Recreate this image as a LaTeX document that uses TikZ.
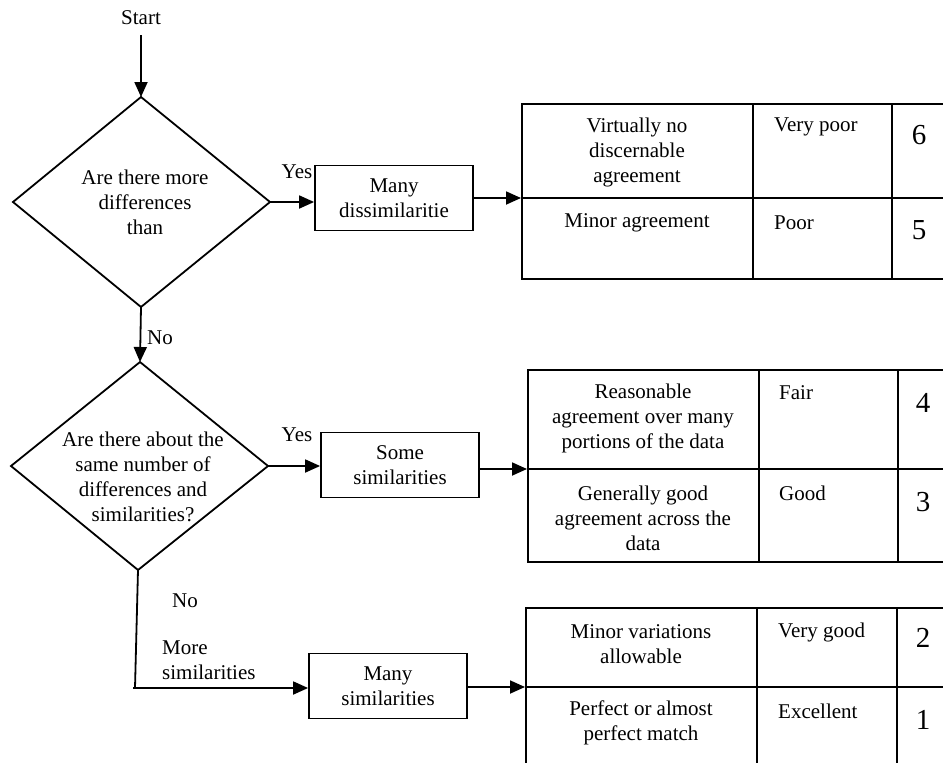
\documentclass[tikz,border=0pt]{standalone}
\usepackage{fontspec}
\setmainfont{Liberation Serif}
\usetikzlibrary{arrows.meta}
\begin{document}
\begin{tikzpicture}[x=1pt,y=1pt,
  every node/.style={font=\fontsize{21}{25}\selectfont},
  conn/.style={line width=1.8pt},
  arr/.style={conn,-{Triangle[length=15pt,width=13pt]}},
  box/.style={draw,line width=1.8pt,minimum width=158pt,minimum height=65pt,align=center,inner sep=0pt},
  lbl/.style={inner sep=0pt},
  tbl/.style={line width=2pt},
  tframe/.style={draw,tbl,anchor=north west,minimum width=450pt,inner sep=0pt},
  num/.style={font=\fontsize{29}{30}\selectfont,inner sep=0pt},
  ctext/.style={align=center,inner sep=0pt},
  rtext/.style={anchor=west,inner sep=0pt}
  ]
\useasboundingbox (0,0) rectangle (943,-763);
\clip (0,0) rectangle (943,-763);

% start
\node[lbl] (start) at (141,-18) {Start};

% diamond 1
\coordinate (d1n) at (141,-97);
\coordinate (d1e) at (270,-202);
\coordinate (d1s) at (141,-307);
\coordinate (d1w) at (13,-202);
\draw[conn] (d1n) -- (d1e) -- (d1s) -- (d1w) -- cycle;
\node[ctext] (d1) at (145,-202) {Are there more\\differences\\than};
\draw[arr] ([yshift=-10pt]start.south) -- (d1n);

% box 1
\node[box] (b1) at (394,-198) {Many\\dissimilaritie};
\draw[arr] (d1e) -- (d1e -| b1.west);
\node[lbl] (yes1) at (297,-172) {Yes};

% table 1
\node[tframe,minimum height=175pt] (t1) at (521,-103) {};
\coordinate (t1m) at (521,-198);
\draw[tbl] (t1m) -- (t1m -| t1.east);
\draw[tbl] ([xshift=232pt]t1.north west) -- ([xshift=232pt]t1.south west);
\draw[tbl] ([xshift=371pt]t1.north west) -- ([xshift=371pt]t1.south west);
\draw[arr] (b1.east |- t1m) -- (t1m);
\node[ctext] (t1a) at (637,-152) {Virtually no\\discernable\\agreement};
\node[rtext] (t1b) at (774,-127) {Very poor};
\node[num] (t1c) at (919,-135) {6};
\node[ctext] (t1d) at (637,-223) {Minor agreement};
\node[rtext] (t1e) at (774,-223) {Poor};
\node[num] (t1f) at (919,-230) {5};

% diamond 2
\coordinate (d2n) at (140,-362);
\coordinate (d2e) at (268,-466);
\coordinate (d2s) at (138,-570);
\coordinate (d2w) at (11,-466);
\draw[conn] (d2n) -- (d2e) -- (d2s) -- (d2w) -- cycle;
\node[ctext] (d2) at (143,-477) {Are there about the\\same number of\\differences and\\similarities?};
\draw[arr] (d1s) -- (d2n);
\node[lbl] (no1) at (160,-338) {No};

% box 2
\node[box] (b2) at (400,-465) {Some\\similarities};
\draw[arr] (d2e) -- (d2e -| b2.west);
\node[lbl] (yes2) at (297,-435) {Yes};

% table 2
\node[tframe,minimum height=192pt] (t2) at (527,-369) {};
\coordinate (t2m) at (527,-469);
\draw[tbl] (t2m) -- (t2m -| t2.east);
\draw[tbl] ([xshift=232pt]t2.north west) -- ([xshift=232pt]t2.south west);
\draw[tbl] ([xshift=371pt]t2.north west) -- ([xshift=371pt]t2.south west);
\draw[arr] (b2.east |- t2m) -- (t2m);
\node[ctext] (t2a) at (643,-418) {Reasonable\\agreement over many\\portions of the data};
\node[rtext] (t2b) at (779,-393) {Fair};
\node[num] (t2c) at (923,-403) {4};
\node[ctext] (t2d) at (643,-518) {Generally good\\agreement across the\\data};
\node[rtext] (t2e) at (779,-493) {Good};
\node[num] (t2f) at (923,-502) {3};

% box 3
\node[box] (b3) at (388,-686) {Many\\similarities};
\coordinate (c3) at (135,-688);
\draw[conn] (d2s) -- (c3);
\draw[arr] ([xshift=-2pt]c3) -- (c3 -| b3.west);
\node[lbl] (no2) at (185,-601) {No};
\node[ctext,align=left,anchor=west] (more) at (162,-660) {More\\similarities};

% table 3
\node[tframe,minimum height=200pt] (t3) at (525,-607) {};
\coordinate (t3m) at (525,-687);
\draw[tbl] (t3m) -- (t3m -| t3.east);
\draw[tbl] ([xshift=232pt]t3.north west) -- ([xshift=232pt]t3.south west);
\draw[tbl] ([xshift=372pt]t3.north west) -- ([xshift=372pt]t3.south west);
\draw[arr] (b3.east |- t3m) -- (t3m);
\node[ctext] (t3a) at (641,-644) {Minor variations\\allowable};
\node[rtext] (t3b) at (778,-632) {Very good};
\node[num] (t3c) at (923,-638) {2};
\node[ctext] (t3d) at (641,-723) {Perfect or almost\\perfect match};
\node[rtext] (t3e) at (778,-711) {Excellent};
\node[num] (t3f) at (923,-720) {1};
\end{tikzpicture}
\end{document}
